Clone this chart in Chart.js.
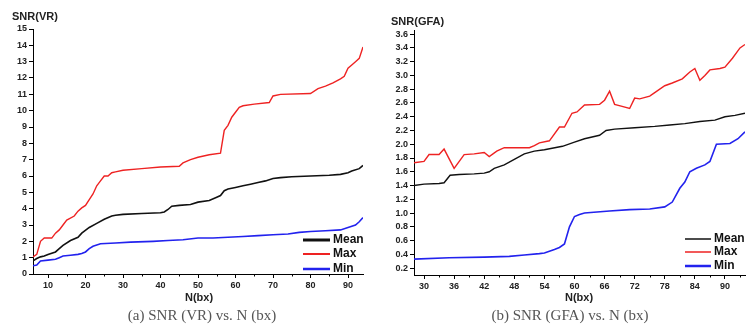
<!DOCTYPE html>
<html>
<head>
<meta charset="utf-8">
<script src="https://cdn.jsdelivr.net/npm/chart.js@4/dist/chart.umd.min.js"></script>
<style>
  body { margin: 0; background: #fff; width: 746px; height: 329px; overflow: hidden; position: relative; font-family: Arial, "Liberation Sans", sans-serif; }
  canvas { position: absolute; top: 0; }
  .lbl { position: absolute; font-weight: bold; font-size: 11px; color: #222; white-space: nowrap; transform: translate(-50%, -50%); }
  .ttl { position: absolute; font-weight: bold; font-size: 11px; color: #222; white-space: nowrap; transform: translateY(-50%); }
  .cap { position: absolute; font-family: "Liberation Serif", "DejaVu Serif", serif; font-size: 15px; color: #555; white-space: nowrap; transform: translate(-50%, -50%); }
</style>
</head>
<body>
<canvas id="vrChart" width="373" height="329" style="left:0"></canvas>
<canvas id="gfaChart" width="373" height="329" style="left:373px"></canvas>

<div class="ttl" style="left:12px;top:16px">SNR(VR)</div>
<div class="ttl" style="left:391px;top:21px">SNR(GFA)</div>
<div class="lbl" style="left:199px;top:297px">N(bx)</div>
<div class="lbl" style="left:579px;top:297px">N(bx)</div>
<div class="cap" style="left:202px;top:315px">(a) SNR (VR) vs. N (bx)</div>
<div class="cap" style="left:570px;top:315px">(b) SNR (GFA) vs. N (bx)</div>

<script>
// --- (a) SNR(VR) vs N(bx) ---
const vrMeanN = [6, 7, 8, 9, 10, 12, 13, 14, 16, 18, 19, 21, 23, 25, 27, 28, 30, 35, 40, 41, 42, 43, 45, 48, 50, 53, 55, 56, 57, 58, 60, 62, 64, 66, 68, 70, 72, 75, 80, 85, 88, 90, 91, 93, 94];
const vrMean  = [0.8, 0.95, 1.05, 1.1, 1.2, 1.35, 1.55, 1.75, 2.05, 2.25, 2.5, 2.85, 3.1, 3.35, 3.55, 3.6, 3.65, 3.7, 3.75, 3.8, 3.95, 4.15, 4.2, 4.25, 4.4, 4.5, 4.7, 4.8, 5.1, 5.2, 5.3, 5.4, 5.5, 5.6, 5.7, 5.85, 5.9, 5.95, 6.0, 6.05, 6.1, 6.2, 6.3, 6.45, 6.65];

const vrMaxN = [6, 7, 8, 9, 11, 12, 13, 14, 15, 17, 18, 19, 20, 21, 22, 23, 24, 25, 26, 27, 28, 30, 35, 40, 45, 46, 48, 50, 53, 56, 57, 58, 59, 60, 61, 62, 65, 69, 70, 72, 80, 82, 84, 86, 88, 89, 90, 91, 92, 93, 94];
const vrMax  = [1.05, 1.2, 2.0, 2.2, 2.2, 2.5, 2.7, 3.0, 3.3, 3.55, 3.85, 4.05, 4.2, 4.55, 4.9, 5.4, 5.7, 6.0, 6.0, 6.2, 6.25, 6.35, 6.45, 6.55, 6.6, 6.8, 7.0, 7.15, 7.3, 7.4, 8.8, 9.1, 9.6, 9.9, 10.2, 10.3, 10.4, 10.5, 10.9, 11.0, 11.05, 11.35, 11.5, 11.7, 11.95, 12.1, 12.6, 12.8, 13.0, 13.2, 13.9];

const vrMinN = [6, 7, 8, 10, 12, 13, 14, 16, 18, 19, 20, 21, 22, 24, 28, 32, 38, 42, 46, 50, 54, 58, 62, 66, 70, 74, 77, 80, 84, 88, 90, 92, 93, 94];
const vrMin  = [0.5, 0.55, 0.8, 0.85, 0.9, 1.0, 1.1, 1.15, 1.2, 1.25, 1.35, 1.55, 1.7, 1.85, 1.9, 1.95, 2.0, 2.05, 2.1, 2.2, 2.2, 2.25, 2.3, 2.35, 2.4, 2.45, 2.55, 2.6, 2.65, 2.7, 2.85, 3.0, 3.2, 3.45];

const vrXTicks = [10, 20, 30, 40, 50, 60, 70, 80, 90];
const vrXMinor = [15, 25, 35, 45, 55, 65, 75, 85];
const vrYTicks = [0, 1, 2, 3, 4, 5, 6, 7, 8, 9, 10, 11, 12, 13, 14, 15];

// --- (b) SNR(GFA) vs N(bx) ---
const gfaMeanN = [28, 30, 33, 34, 35.2, 37, 40, 42, 43, 44, 46, 48, 50, 52, 54, 57.6, 60, 62, 65, 66.3, 68, 72, 76, 79, 82, 85, 88, 90, 92, 94];
const gfaMean  = [1.4, 1.42, 1.43, 1.44, 1.55, 1.56, 1.57, 1.58, 1.6, 1.65, 1.7, 1.78, 1.86, 1.9, 1.92, 1.97, 2.03, 2.08, 2.13, 2.2, 2.22, 2.24, 2.26, 2.28, 2.3, 2.33, 2.35, 2.4, 2.42, 2.45];

const gfaMaxN = [28, 30, 31, 33, 34, 36, 38, 40, 42, 43, 44.5, 46, 51, 52, 53, 55, 57, 58, 59.5, 60.5, 62, 65, 66, 67, 68, 69.5, 71, 72, 73, 75, 76, 78, 79.5, 81.5, 83, 84, 85, 86, 87, 89, 90, 91.5, 93, 94];
const gfaMax  = [1.73, 1.75, 1.85, 1.85, 1.93, 1.65, 1.85, 1.86, 1.88, 1.82, 1.9, 1.95, 1.95, 1.98, 2.02, 2.05, 2.25, 2.25, 2.45, 2.47, 2.57, 2.58, 2.64, 2.77, 2.58, 2.55, 2.52, 2.67, 2.66, 2.7, 2.75, 2.85, 2.89, 2.95, 3.05, 3.1, 2.93, 3.0, 3.08, 3.1, 3.12, 3.25, 3.4, 3.45];

const gfaMinN = [28, 35, 42, 47, 50, 53, 54, 56, 57, 58, 59, 60, 61, 62, 67, 71, 75, 78, 79.5, 81, 82, 83, 84.3, 86, 87, 88.3, 91, 92.6, 94];
const gfaMin  = [0.33, 0.35, 0.36, 0.37, 0.39, 0.41, 0.42, 0.47, 0.5, 0.55, 0.8, 0.95, 0.98, 1.0, 1.03, 1.05, 1.06, 1.09, 1.16, 1.36, 1.45, 1.6, 1.65, 1.7, 1.75, 2.0, 2.01, 2.08, 2.18];

const gfaXTicks = [30, 36, 42, 48, 54, 60, 66, 72, 78, 84, 90];
const gfaXMinor = [33, 39, 45, 51, 57, 63, 69, 75, 81, 87, 93];
const gfaYTicks = [0.2, 0.4, 0.6, 0.8, 1.0, 1.2, 1.4, 1.6, 1.8, 2.0, 2.2, 2.4, 2.6, 2.8, 3.0, 3.2, 3.4, 3.6];

const seriesLabels = ['Mean', 'Max', 'Min'];
const seriesColors = ['#111111', '#ee2222', '#2222ee'];

function pts(xs, ys) {
    return xs.map((x, i) => ({ x: x, y: ys[i] }));
}

// legend drawn inside the plot, bottom right
const innerLegend = {
    id: 'innerLegend',
    afterDatasetsDraw(chart, args, o) {
        const ctx = chart.ctx, a = chart.chartArea;
        ctx.save();
        ctx.font = 'bold 12px Arial';
        ctx.textBaseline = 'middle';
        chart.data.datasets.forEach((ds, i) => {
            const y = a.bottom - o.rows[i];
            ctx.strokeStyle = ds.borderColor;
            ctx.lineWidth = o.widths[i];
            ctx.beginPath();
            ctx.moveTo(a.right - o.x0, y);
            ctx.lineTo(a.right - o.x1, y);
            ctx.stroke();
            ctx.fillStyle = '#111';
            ctx.fillText(ds.label, a.right - o.tx, y);
        });
        ctx.restore();
    }
};

// short ticks between the labelled ones
const minorTicks = {
    id: 'minorTicks',
    afterDraw(chart, args, o) {
        const ctx = chart.ctx, xs = chart.scales.x;
        ctx.save();
        ctx.strokeStyle = '#000';
        ctx.lineWidth = 1;
        o.values.forEach(v => {
            const px = Math.round(xs.getPixelForValue(v)) + 0.5;
            ctx.beginPath();
            ctx.moveTo(px, xs.top);
            ctx.lineTo(px, xs.top + 2.5);
            ctx.stroke();
        });
        ctx.restore();
    }
};

function axisStyle() {
    return {
        grid: { display: true, drawOnChartArea: false, drawTicks: true, tickLength: 4, color: '#000' },
        border: { display: true, color: '#000', width: 1 },
        ticks: { padding: 2, color: '#222', font: { size: 9, weight: 'bold', family: 'Arial' } }
    };
}

function makeChart(id, c) {
    const xAxis = axisStyle(), yAxis = axisStyle();
    Object.assign(xAxis, {
        type: 'linear', min: c.xMin, max: c.xMax,
        afterBuildTicks: s => { s.ticks = c.xTicks.map(v => ({ value: v })); },
        afterFit: s => { s.height = 329 - c.bottom; }
    });
    xAxis.ticks.maxRotation = 0;
    Object.assign(yAxis, {
        type: 'linear', min: c.yMin, max: c.yMax,
        afterBuildTicks: s => { s.ticks = c.yTicks.map(v => ({ value: v })); },
        afterFit: s => { s.width = c.left; }
    });
    yAxis.ticks.callback = v => c.yFmt(v);

    const data = [c.mean, c.max, c.min];
    return new Chart(document.getElementById(id), {
        type: 'line',
        data: {
            datasets: seriesLabels.map((lab, i) => ({
                label: lab,
                data: pts(data[i][0], data[i][1]),
                borderColor: seriesColors[i],
                borderWidth: c.lineWidths[i],
                pointRadius: 0,
                tension: 0,
                fill: false
            }))
        },
        options: {
            responsive: false,
            animation: false,
            layout: { padding: { top: c.top, right: c.right, left: 0, bottom: 0 } },
            plugins: {
                legend: { display: false },
                tooltip: { enabled: false },
                innerLegend: c.legend,
                minorTicks: { values: c.xMinor }
            },
            scales: { x: xAxis, y: yAxis }
        },
        plugins: [innerLegend, minorTicks]
    });
}

makeChart('vrChart', {
    xMin: 6, xMax: 94, yMin: 0, yMax: 15,
    xTicks: vrXTicks, xMinor: vrXMinor, yTicks: vrYTicks,
    yFmt: v => String(v),
    left: 33, right: 10, top: 29, bottom: 274,
    mean: [vrMeanN, vrMean], max: [vrMaxN, vrMax], min: [vrMinN, vrMin],
    lineWidths: [1.6, 1.4, 1.6],
    legend: { rows: [34, 20, 5], widths: [3, 2, 2.5], x0: 60, x1: 33, tx: 30 }
});

makeChart('gfaChart', {
    xMin: 28, xMax: 94, yMin: 0.1, yMax: 3.66,
    xTicks: gfaXTicks, xMinor: gfaXMinor, yTicks: gfaYTicks,
    yFmt: v => v.toFixed(1),
    left: 41, right: 1, top: 30, bottom: 275,
    mean: [gfaMeanN, gfaMean], max: [gfaMaxN, gfaMax], min: [gfaMinN, gfaMin],
    lineWidths: [1.4, 1.4, 1.6],
    legend: { rows: [36, 23, 9], widths: [1.5, 1.5, 2.5], x0: 60, x1: 34, tx: 31 }
});
</script>
</body>
</html>
